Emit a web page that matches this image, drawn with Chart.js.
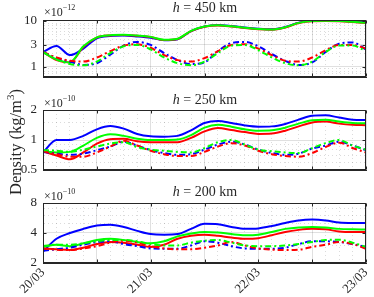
<!DOCTYPE html>
<html>
<head>
<meta charset="utf-8">
<script src="https://cdn.jsdelivr.net/npm/chart.js@4.4.0/dist/chart.umd.min.js"></script>
<style>
  body { margin: 0; width: 374px; height: 297px; background: #fff; position: relative; overflow: hidden;
         font-family: "Liberation Serif", "DejaVu Serif", serif; color: #262626; }
  canvas { position: absolute; left: 0; }
  .title { position: absolute; left: 105px; width: 200px; text-align: center; font-size: 14px; line-height: 16px; white-space: nowrap; }
  .expo { position: absolute; left: 44px; font-size: 12px; line-height: 14px; white-space: nowrap; }
  .expo sup { font-size: 8px; position: relative; top: -1px; }
  #ylab { position: absolute; left: -90px; top: 132px; width: 200px; height: 20px; line-height: 20px; text-align: center;
          font-size: 16.5px; transform: rotate(-90deg); white-space: nowrap; }
</style>
</head>
<body>
<canvas id="c450" width="374" height="80" style="top:0px"></canvas>
<canvas id="c250" width="374" height="73" style="top:100px"></canvas>
<canvas id="c200" width="374" height="107" style="top:190px"></canvas>

<div class="title" style="top:0px"><i>h</i> = 450 km</div>
<div class="title" style="top:92px"><i>h</i> = 250 km</div>
<div class="title" style="top:184px"><i>h</i> = 200 km</div>
<div class="expo" style="top:2px">×10<sup>−12</sup></div>
<div class="expo" style="top:93px">×10<sup>−10</sup></div>
<div class="expo" style="top:186px">×10<sup>−10</sup></div>
<div id="ylab">Density (kg/m<sup style="font-size:11px">3</sup>)</div>

<script>
// время в сутках от 20/03 00:00
const days = [0, 0.125, 0.25, 0.375, 0.5, 0.625, 0.75, 0.875, 1, 1.125, 1.25, 1.375, 1.5,
              1.625, 1.75, 1.875, 2, 2.125, 2.25, 2.375, 2.5, 2.625, 2.75, 2.875, 3];
const dayLabels = ['20/03', '21/03', '22/03', '23/03'];

// h = 450 km, x1e-12
const h450BlueSolid  = [2.1, 2.85, 1.8, 2.5, 4.2, 4.7, 4.8, 4.6, 4.3, 3.8, 4.0, 6.0, 7.6, 8.2, 7.8, 7.2, 6.8, 6.6, 7.4, 9.2, 10.2, 10.4, 10.4, 10.0, 9.4];
const h450GreenSolid = [2.1, 1.45, 1.25, 2.8, 4.4, 4.9, 5.0, 4.8, 4.5, 3.9, 4.1, 6.1, 7.6, 8.1, 7.7, 7.1, 6.7, 6.5, 7.3, 9.1, 10.0, 10.1, 10.0, 9.6, 9.1];
const h450RedSolid   = [2.1, 1.4, 1.25, 2.7, 4.35, 4.85, 4.95, 4.75, 4.45, 3.85, 4.05, 6.0, 7.5, 8.0, 7.6, 7.0, 6.6, 6.45, 7.2, 9.0, 9.9, 10.0, 9.9, 9.5, 9.0];
const h450BlueDash   = [2.1, 1.55, 1.3, 1.1, 1.2, 1.85, 2.9, 3.5, 3.0, 2.0, 1.4, 1.15, 1.25, 2.2, 3.3, 3.5, 2.8, 1.9, 1.35, 1.1, 1.25, 2.1, 3.2, 3.4, 2.4];
const h450GreenDash  = [2.1, 1.45, 1.15, 1.08, 1.3, 2.0, 2.8, 3.0, 2.4, 1.6, 1.2, 1.08, 1.3, 2.0, 2.9, 3.0, 2.3, 1.6, 1.2, 1.08, 1.3, 2.1, 2.9, 2.9, 2.2];
const h450RedDash    = [2.1, 1.6, 1.35, 1.3, 1.6, 2.2, 2.9, 3.1, 2.6, 1.8, 1.4, 1.3, 1.55, 2.2, 3.0, 3.1, 2.5, 1.8, 1.35, 1.3, 1.6, 2.3, 3.0, 3.0, 2.5];

// h = 250 km, x1e-10
const h250BlueSolid  = [0.75, 1.0, 1.0, 1.1, 1.28, 1.38, 1.3, 1.15, 1.09, 1.08, 1.1, 1.25, 1.48, 1.55, 1.48, 1.4, 1.36, 1.37, 1.45, 1.6, 1.75, 1.77, 1.68, 1.6, 1.59];
const h250GreenSolid = [0.77, 0.75, 0.76, 0.88, 1.05, 1.14, 1.1, 1.03, 1.0, 1.0, 1.01, 1.12, 1.33, 1.42, 1.36, 1.28, 1.24, 1.25, 1.33, 1.46, 1.58, 1.6, 1.53, 1.48, 1.47];
const h250RedSolid   = [0.77, 0.7, 0.64, 0.75, 0.92, 1.02, 1.03, 0.97, 0.95, 0.95, 0.95, 1.05, 1.22, 1.32, 1.26, 1.2, 1.15, 1.16, 1.24, 1.37, 1.5, 1.53, 1.46, 1.42, 1.41];
const h250BlueDash   = [0.76, 0.73, 0.71, 0.73, 0.79, 0.86, 0.96, 0.88, 0.79, 0.74, 0.71, 0.72, 0.8, 0.9, 0.96, 0.9, 0.8, 0.74, 0.71, 0.73, 0.82, 0.88, 0.96, 0.88, 0.79];
const h250GreenDash  = [0.79, 0.78, 0.76, 0.8, 0.86, 0.92, 0.95, 0.85, 0.8, 0.78, 0.76, 0.75, 0.83, 0.95, 1.0, 0.9, 0.8, 0.77, 0.75, 0.74, 0.83, 0.93, 1.0, 0.88, 0.8];
const h250RedDash    = [0.77, 0.72, 0.68, 0.68, 0.75, 0.86, 0.98, 0.88, 0.78, 0.72, 0.69, 0.69, 0.76, 0.86, 0.93, 0.88, 0.78, 0.72, 0.69, 0.68, 0.74, 0.85, 0.94, 0.83, 0.75];

// h = 200 km, x1e-10
const h200BlueSolid  = [2.6, 3.5, 4.0, 4.4, 4.75, 4.85, 4.6, 4.2, 3.9, 3.85, 3.9, 4.4, 4.95, 4.9, 4.6, 4.4, 4.45, 4.7, 5.05, 5.35, 5.45, 5.35, 5.1, 5.05, 5.05];
const h200GreenSolid = [2.9, 3.05, 2.95, 3.15, 3.4, 3.5, 3.4, 3.25, 3.15, 3.3, 3.7, 3.95, 4.1, 4.05, 3.9, 3.8, 3.85, 4.1, 4.4, 4.55, 4.6, 4.55, 4.4, 4.35, 4.33];
const h200RedSolid   = [2.8, 2.75, 2.7, 2.85, 3.1, 3.25, 3.2, 3.05, 2.9, 3.05, 3.5, 3.75, 3.85, 3.75, 3.6, 3.5, 3.55, 3.8, 4.1, 4.3, 4.4, 4.35, 4.15, 4.1, 4.1];
const h200BlueDash   = [2.65, 2.75, 2.85, 3.05, 3.25, 3.3, 3.1, 2.95, 2.8, 2.78, 2.78, 3.0, 3.3, 3.2, 2.95, 2.8, 2.78, 2.78, 2.85, 3.1, 3.3, 3.3, 3.25, 3.1, 2.9];
const h200GreenDash  = [2.95, 3.05, 3.05, 3.15, 3.3, 3.4, 3.4, 3.3, 3.1, 3.0, 3.0, 3.2, 3.35, 3.4, 3.2, 3.0, 2.95, 2.95, 3.0, 3.1, 3.25, 3.4, 3.42, 3.2, 2.9];
const h200RedDash    = [2.8, 2.72, 2.7, 2.8, 2.95, 3.2, 3.35, 3.2, 2.95, 2.8, 2.75, 2.75, 2.85, 3.0, 3.25, 3.0, 2.8, 2.72, 2.7, 2.72, 2.9, 3.05, 3.25, 3.1, 2.78];

// деления осей Y
const h450Major = [1, 3, 10];
const h450Minor = [0.6, 0.7, 0.8, 0.9, 2, 4, 5, 6, 7, 8, 9];
const h250Major = [0.5, 1, 2];
const h250Minor = [0.6, 0.7, 0.8, 0.9, 1.5];
const h200Major = [2, 4, 8];
const h200Minor = [3, 5, 6, 7];

const AXIS = '#262626';
const FONT = { family: '"Liberation Serif", "DejaVu Serif", serif', size: 13 };

// рамка вокруг области графика + внутренние засечки
const boxPlugin = {
    id: 'box',
    afterDraw(chart, args, opts) {
        const { ctx, chartArea: a, scales } = chart;
        const majors = opts.majors || [];
        const L = Math.round(a.left) + 0.5, R = Math.round(a.right) - 0.5;
        const T = Math.round(a.top) + 0.5, B = Math.round(a.bottom) - 0.5;
        ctx.save();
        ctx.strokeStyle = AXIS;
        ctx.lineWidth = 1;
        ctx.strokeRect(L, T, R - L, B - T);
        ctx.beginPath();
        scales.y.ticks.forEach(t => {
            if (!majors.includes(t.value)) return;
            const y = Math.round(scales.y.getPixelForValue(t.value)) + 0.5;
            ctx.moveTo(L, y); ctx.lineTo(L + 3, y);
            ctx.moveTo(R, y); ctx.lineTo(R - 3, y);
        });
        scales.x.ticks.forEach(t => {
            if (Math.abs(t.value * 2 - Math.round(t.value * 2)) > 1e-6) return;
            const x = Math.round(scales.x.getPixelForValue(t.value)) + 0.5;
            ctx.moveTo(x, B); ctx.lineTo(x, B - 3);
            ctx.moveTo(x, T); ctx.lineTo(x, T + 3);
        });
        ctx.stroke();
        ctx.restore();
    }
};

function series(data, color, dashed) {
    return {
        data: data.map((v, i) => ({ x: days[i], y: v })),
        borderColor: color,
        backgroundColor: color,
        borderWidth: 2,
        borderDash: dashed ? [6, 3, 2, 3] : [],
        pointRadius: 0,
        cubicInterpolationMode: 'monotone',
        fill: false
    };
}

function makePanel(id, sets, yMin, yMax, majors, minors, padTop, padBottom, showX) {
    const isMajorX = v => Math.abs(v * 2 - Math.round(v * 2)) < 1e-6;
    return new Chart(document.getElementById(id).getContext('2d'), {
        type: 'line',
        data: {
            datasets: [
                series(sets.gd, '#00ff00', true),
                series(sets.rd, '#ff0000', true),
                series(sets.bd, '#0000ff', true),
                series(sets.gs, '#00ff00', false),
                series(sets.rs, '#ff0000', false),
                series(sets.bs, '#0000ff', false)
            ]
        },
        options: {
            responsive: false,
            animation: false,
            layout: { padding: { top: padTop, bottom: padBottom, left: 0, right: 8 } },
            plugins: { legend: { display: false }, tooltip: { enabled: false }, box: { majors: majors } },
            scales: {
                x: {
                    type: 'linear', min: 0, max: 3,
                    afterBuildTicks: s => { s.ticks = days.map(v => ({ value: v })); },
                    afterFit: s => {
                        s.height = showX ? 34 : 0;
                        s.paddingLeft = 0; s.paddingRight = 0;
                    },
                    ticks: {
                        display: showX, autoSkip: false, minRotation: 45, maxRotation: 45, padding: 2,
                        color: AXIS, font: FONT,
                        callback: v => Number.isInteger(v) ? dayLabels[v] : ''
                    },
                    grid: {
                        drawTicks: false,
                        color: c => (c.tick && isMajorX(c.tick.value)) ? 'rgba(0,0,0,0.12)' : 'rgba(0,0,0,0.14)'
                    },
                    border: {
                        color: AXIS,
                        dash: c => (c.tick && !isMajorX(c.tick.value)) ? [1, 3] : []
                    }
                },
                y: {
                    type: 'logarithmic', min: yMin, max: yMax,
                    afterBuildTicks: s => {
                        s.ticks = majors.concat(minors).sort((a, b) => a - b).map(v => ({ value: v }));
                    },
                    afterFit: s => {
                        s.width = 43;
                        s.paddingTop = 0; s.paddingBottom = 0;
                    },
                    ticks: {
                        autoSkip: false, padding: 6, color: AXIS, font: FONT,
                        callback: v => majors.includes(v) ? String(v) : ''
                    },
                    grid: {
                        drawTicks: false,
                        color: c => (c.tick && majors.includes(c.tick.value)) ? 'rgba(0,0,0,0.12)' : 'rgba(0,0,0,0.14)'
                    },
                    border: {
                        color: AXIS,
                        dash: c => (c.tick && !majors.includes(c.tick.value)) ? [1, 3] : []
                    }
                }
            }
        },
        plugins: [boxPlugin]
    });
}

document.addEventListener('DOMContentLoaded', () => {
    if (typeof Chart === 'undefined') {
        console.error('Chart.js is not loaded!');
        return;
    }
    makePanel('c450', {
        bs: h450BlueSolid, gs: h450GreenSolid, rs: h450RedSolid,
        bd: h450BlueDash, gd: h450GreenDash, rd: h450RedDash
    }, 0.6, 10.5, h450Major, h450Minor, 20, 3, false);

    makePanel('c250', {
        bs: h250BlueSolid, gs: h250GreenSolid, rs: h250RedSolid,
        bd: h250BlueDash, gd: h250GreenDash, rd: h250RedDash
    }, 0.5, 2, h250Major, h250Minor, 10, 3, false);

    makePanel('c200', {
        bs: h200BlueSolid, gs: h200GreenSolid, rs: h200RedSolid,
        bd: h200BlueDash, gd: h200GreenDash, rd: h200RedDash
    }, 2, 8, h200Major, h200Minor, 13, 0, true);
});
</script>
</body>
</html>
